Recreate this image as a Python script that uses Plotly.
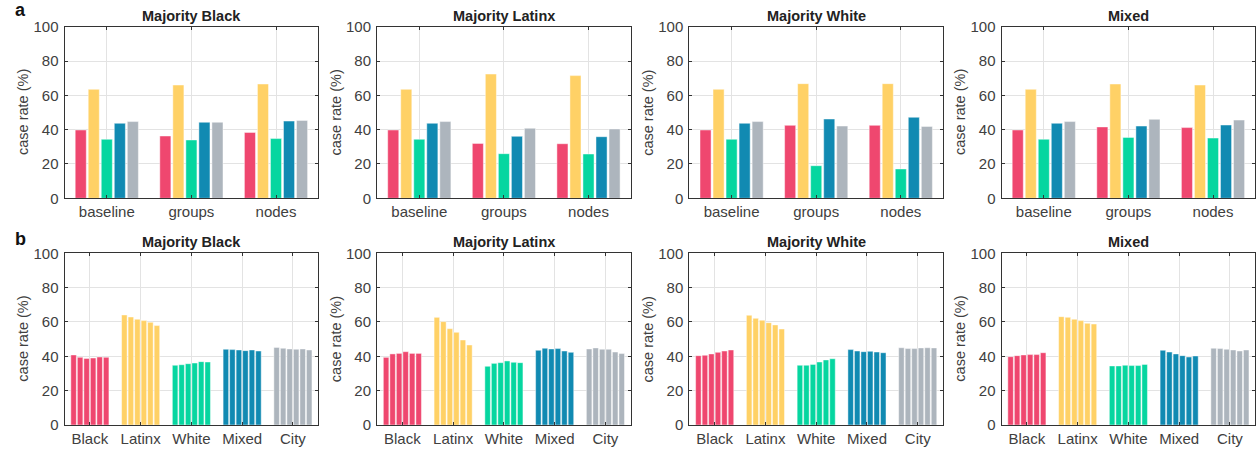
import plotly.graph_objects as go

# ---------------- data ----------------
panel_titles = ["Majority Black", "Majority Latinx", "Majority White", "Mixed"]
groups = ["Black", "Latinx", "White", "Mixed", "City"]
colors = ["#EF476F", "#FFD166", "#06D6A0", "#118AB2", "#ADB5BD"]

# row a: strategies on x, one series per group
strategies = ["baseline", "groups", "nodes"]
a_black = {
    "Majority Black": [39.8, 36.3, 38.4],
    "Majority Latinx": [39.8, 32.0, 31.8],
    "Majority White": [39.8, 42.5, 42.5],
    "Mixed": [39.8, 41.6, 41.2],
}
a_latinx = {
    "Majority Black": [63.5, 66.0, 66.6],
    "Majority Latinx": [63.5, 72.4, 71.5],
    "Majority White": [63.5, 66.8, 66.8],
    "Mixed": [63.5, 66.6, 66.0],
}
a_white = {
    "Majority Black": [34.4, 34.0, 34.8],
    "Majority Latinx": [34.4, 26.0, 25.8],
    "Majority White": [34.4, 19.0, 17.1],
    "Mixed": [34.4, 35.5, 35.1],
}
a_mixed = {
    "Majority Black": [43.7, 44.3, 45.0],
    "Majority Latinx": [43.7, 36.1, 35.9],
    "Majority White": [43.7, 46.2, 47.2],
    "Mixed": [43.7, 42.1, 42.7],
}
a_city = {
    "Majority Black": [44.7, 44.3, 45.4],
    "Majority Latinx": [44.7, 40.8, 40.4],
    "Majority White": [44.7, 42.1, 41.9],
    "Mixed": [44.7, 46.0, 45.6],
}

# row b: six bars per group
b_black = {
    "Majority Black": [40.8, 39.4, 38.8, 39.0, 39.6, 39.4],
    "Majority Latinx": [39.4, 41.4, 41.7, 42.7, 41.7, 41.7],
    "Majority White": [40.4, 40.6, 41.4, 42.3, 43.1, 43.7],
    "Mixed": [39.8, 40.4, 40.8, 41.0, 41.0, 42.1],
}
b_latinx = {
    "Majority Black": [64.1, 62.9, 61.6, 60.8, 59.8, 57.9],
    "Majority Latinx": [62.7, 60.2, 56.1, 54.0, 49.5, 46.6],
    "Majority White": [63.9, 62.1, 61.0, 59.6, 58.3, 55.9],
    "Mixed": [63.1, 62.7, 61.6, 60.8, 59.2, 58.8],
}
b_white = {
    "Majority Black": [34.8, 35.1, 35.7, 36.1, 36.9, 36.7],
    "Majority Latinx": [34.2, 35.9, 36.3, 37.3, 36.5, 36.3],
    "Majority White": [34.8, 34.8, 35.3, 36.7, 37.9, 38.6],
    "Mixed": [34.4, 34.4, 34.8, 34.6, 34.6, 35.3],
}
b_mixed = {
    "Majority Black": [44.1, 43.9, 43.7, 43.3, 43.7, 43.1],
    "Majority Latinx": [43.5, 44.7, 44.3, 44.5, 43.1, 42.3],
    "Majority White": [43.9, 43.1, 42.7, 42.9, 42.5, 42.1],
    "Mixed": [43.5, 42.5, 41.4, 40.4, 39.6, 40.2],
}
b_city = {
    "Majority Black": [45.2, 44.7, 44.3, 44.1, 44.3, 43.7],
    "Majority Latinx": [44.3, 44.9, 44.1, 44.1, 42.5, 41.6],
    "Majority White": [45.0, 44.5, 44.5, 44.9, 45.0, 44.9],
    "Mixed": [44.7, 44.5, 44.1, 43.7, 43.1, 43.7],
}

y_ticks = [0, 20, 40, 60, 80, 100]

# ---------------- layout geometry ----------------
W, H = 1257, 452
panel_left_px = [64.5, 377, 689.3, 1001.5]
panel_w_px = 253.8
row_a_px = (26.7, 198.3)
row_b_px = (253.3, 425.0)

FONT = "Liberation Sans, Arial, Helvetica, sans-serif"
AX_COLOR = "#333333"
TICK_COLOR = "#404040"
GRID = "#e3e3e3"
EDGE = "rgba(255,255,255,0.45)"

fig = go.Figure()
annotations = []

a_series = [a_black, a_latinx, a_white, a_mixed, a_city]
b_series = [b_black, b_latinx, b_white, b_mixed, b_city]


def axis_common():
    return dict(
        showline=True, linecolor=AX_COLOR, linewidth=1, mirror="ticks",
        ticks="inside", ticklen=3, tickcolor=AX_COLOR, tickwidth=1,
        showgrid=True, gridcolor=GRID, gridwidth=1, zeroline=False,
        tickfont=dict(family=FONT, size=15, color=TICK_COLOR),
        fixedrange=True, automargin=False,
    )


idx = 0
for row, (top_px, bot_px) in enumerate([row_a_px, row_b_px]):
    for col, title in enumerate(panel_titles):
        idx += 1
        xa = "x" if idx == 1 else f"x{idx}"
        ya = "y" if idx == 1 else f"y{idx}"
        xkey = "xaxis" if idx == 1 else f"xaxis{idx}"
        ykey = "yaxis" if idx == 1 else f"yaxis{idx}"
        x0 = panel_left_px[col] / W
        x1 = (panel_left_px[col] + panel_w_px) / W
        y0 = 1 - bot_px / H
        y1 = 1 - top_px / H

        if row == 0:
            for g, series, c in zip(groups, a_series, colors):
                fig.add_trace(go.Bar(
                    x=strategies, y=series[title], name=g, marker_color=c,
                    marker_line=dict(color=EDGE, width=1),
                    xaxis=xa, yaxis=ya, showlegend=False,
                ))
            cats = strategies
        else:
            for k in range(6):
                yvals = [s[title][k] for s in b_series]
                fig.add_trace(go.Bar(
                    x=groups, y=yvals, marker_color=colors,
                    marker_line=dict(color=EDGE, width=1),
                    xaxis=xa, yaxis=ya, showlegend=False,
                ))
            cats = groups

        xa_cfg = axis_common()
        xa_cfg.update(domain=[x0, x1], anchor=ya, type="category",
                      categoryorder="array", categoryarray=cats,
                      range=[-0.5, len(cats) - 0.5])
        ya_cfg = axis_common()
        ya_cfg.update(domain=[y0, y1], anchor=xa, range=[0, 100],
                      tickvals=y_ticks, ticklabelstandoff=2)
        fig.layout[xkey] = xa_cfg
        fig.layout[ykey] = ya_cfg

        # panel title
        annotations.append(dict(
            text=f"<b>{title}</b>", x=(x0 + x1) / 2, y=1 - (top_px - 11) / H,
            xref="paper", yref="paper", showarrow=False,
            font=dict(family=FONT, size=14.5, color="#222222"),
            xanchor="center", yanchor="middle",
        ))
        # y-axis title
        annotations.append(dict(
            text="case rate (%)", x=(panel_left_px[col] - 41) / W,
            y=(y0 + y1) / 2, xref="paper", yref="paper", showarrow=False,
            textangle=-90, font=dict(family=FONT, size=14.5, color=TICK_COLOR),
            xanchor="center", yanchor="middle",
        ))

# panel letters
annotations.append(dict(text="<b>a</b>", x=13 / W, y=1 - 10 / H, xref="paper",
                        yref="paper", showarrow=False, xanchor="left", yanchor="middle",
                        font=dict(family=FONT, size=18, color="#111111")))
annotations.append(dict(text="<b>b</b>", x=13 / W, y=1 - 239 / H, xref="paper",
                        yref="paper", showarrow=False, xanchor="left", yanchor="middle",
                        font=dict(family=FONT, size=18, color="#111111")))

fig.update_layout(
    template="none",
    width=W, height=H,
    margin=dict(l=0, r=0, t=0, b=0, autoexpand=False),
    paper_bgcolor="white", plot_bgcolor="white",
    barmode="group", bargap=0.23, bargroupgap=0.15,
    annotations=annotations,
    font=dict(family=FONT),
)

fig.write_html("out.html")
